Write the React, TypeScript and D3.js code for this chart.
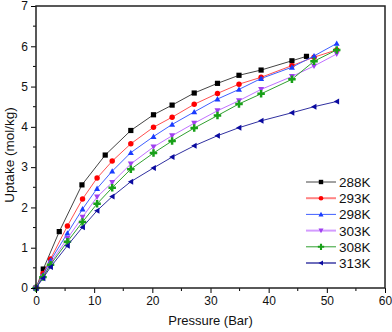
import React, { useEffect, useRef } from "react";
import * as d3 from "d3";

// pressure points (Bar)
const p288 = [0, 1.25, 4.0, 7.9, 11.9, 16.3, 20.2, 23.4, 27.2, 31.2, 34.9, 38.7, 44.0, 46.5];
const p2xx = [0, 1.2, 2.5, 5.4, 8.0, 10.5, 13.1, 16.3, 20.2, 23.4, 27.2, 31.2, 34.9, 38.7, 44.0, 47.8, 51.7];

const u288 = [0, 0.47, 1.4, 2.56, 3.3, 3.91, 4.3, 4.54, 4.84, 5.08, 5.28, 5.41, 5.64, 5.75];
const u293 = [0, 0.36, 0.72, 1.54, 2.21, 2.73, 3.15, 3.58, 3.99, 4.24, 4.56, 4.83, 5.06, 5.23, 5.52, 5.73, 5.91];
const u298 = [0, 0.32, 0.68, 1.36, 1.96, 2.47, 2.9, 3.36, 3.76, 4.06, 4.37, 4.69, 4.93, 5.2, 5.48, 5.76, 6.07];
const u303 = [0, 0.29, 0.62, 1.23, 1.76, 2.26, 2.62, 3.08, 3.5, 3.78, 4.09, 4.4, 4.65, 4.93, 5.25, 5.51, 5.81];
const u308 = [0, 0.27, 0.58, 1.15, 1.64, 2.09, 2.49, 2.95, 3.35, 3.65, 3.97, 4.28, 4.57, 4.82, 5.18, 5.63, 5.91];
const u313 = [0, 0.24, 0.52, 1.05, 1.51, 1.92, 2.27, 2.64, 2.98, 3.25, 3.53, 3.78, 3.98, 4.15, 4.35, 4.5, 4.63];

const labels = ["288K", "293K", "298K", "303K", "308K", "313K"];
const lineColors = ["#444444", "#ff5050", "#4060ff", "#c070ff", "#30a030", "#3030a0"];
const markColors = ["#000000", "#ff0000", "#1a3cff", "#a040f0", "#18a018", "#0a0aa0"];
const shapes = ["square", "circle", "up", "down", "diamond", "left"];
const xTicks = [0, 10, 20, 30, 40, 50, 60];
const yTicks = [0, 1, 2, 3, 4, 5, 6, 7];

function marker(shape: string, r: number) {
  if (shape === "square") return `M${-r},${-r}H${r}V${r}H${-r}Z`;
  if (shape === "circle") return d3.symbol(d3.symbolCircle, Math.PI * r * r * 1.1)()!;
  if (shape === "diamond") return d3.symbol(d3.symbolCross, r * r * 4.6)()!;
  const h = r * 1.15;
  if (shape === "up") return `M0,${-h}L${h},${h * 0.8}L${-h},${h * 0.8}Z`;
  if (shape === "down") return `M0,${h}L${h},${-h * 0.8}L${-h},${-h * 0.8}Z`;
  return `M${-h},0L${h * 0.8},${-h}L${h * 0.8},${h}Z`;
}

const App = () => {
  const ref = useRef<SVGSVGElement>(null);

  useEffect(() => {
    document.body.style.margin = "0";
    const svg = d3.select(ref.current);
    svg.selectAll("*").remove();
    const W = 392, H = 332;
    const left = 36, right = 385, top = 6, bottom = 288;
    const x = d3.scaleLinear().domain([0, 60]).range([left, right]);
    const y = d3.scaleLinear().domain([0, 7]).range([bottom, top]);
    const font = "Arial, 'Liberation Sans', sans-serif";

    svg.attr("width", W).attr("height", H).style("display", "block").style("font-family", font);
    svg.append("rect").attr("width", W).attr("height", H).attr("fill", "white");

    const series = [
      { px: p288, u: u288 },
      { px: p2xx, u: u293 },
      { px: p2xx, u: u298 },
      { px: p2xx, u: u303 },
      { px: p2xx, u: u308 },
      { px: p2xx, u: u313 },
    ];

    const line = d3.line<[number, number]>().x(d => x(d[0])).y(d => y(d[1]));
    series.forEach((s, i) => {
      const pts = s.px.map((p, k) => [p, s.u[k]] as [number, number]);
      svg.append("path").attr("d", line(pts)!).attr("fill", "none")
        .attr("stroke", lineColors[i]).attr("stroke-width", 1);
      svg.append("g").selectAll("path").data(pts).join("path")
        .attr("transform", d => `translate(${x(d[0])},${y(d[1])})`)
        .attr("d", marker(shapes[i], 2.6))
        .attr("fill", markColors[i]);
    });

    // axes
    const gx = svg.append("g").attr("transform", `translate(0,${bottom})`)
      .call(d3.axisBottom(x).tickValues(xTicks).tickSize(5).tickPadding(3).tickFormat(d3.format("d")));
    gx.append("g").selectAll("line").data(d3.range(5, 60, 10)).join("line")
      .attr("x1", d => x(d)).attr("x2", d => x(d)).attr("y2", 3).attr("stroke", "#000");
    const gy = svg.append("g").attr("transform", `translate(${left},0)`)
      .call(d3.axisLeft(y).tickValues(yTicks).tickSize(5).tickPadding(3).tickFormat(d3.format("d")));
    gy.append("g").selectAll("line").data(d3.range(0.5, 7, 1)).join("line")
      .attr("y1", d => y(d)).attr("y2", d => y(d)).attr("x2", -3).attr("stroke", "#000");
    [gx, gy].forEach(g => {
      g.select(".domain").remove();
      g.selectAll("text").attr("font-size", 12).attr("font-family", font).attr("fill", "#111");
      g.selectAll("line").attr("stroke-width", 1);
    });

    svg.append("rect").attr("x", left).attr("y", top).attr("width", right - left).attr("height", bottom - top)
      .attr("fill", "none").attr("stroke", "#222").attr("stroke-width", 1.5);

    svg.append("text").attr("x", (left + right) / 2).attr("y", 325).attr("text-anchor", "middle")
      .attr("font-size", 13).attr("fill", "#111").text("Pressure (Bar)");
    svg.append("text").attr("transform", `translate(13.5,155) rotate(-90)`)
      .attr("text-anchor", "middle").attr("font-size", 13.5).attr("fill", "#111").text("Uptake (mol/kg)");

    // legend
    const lg = svg.append("g");
    labels.forEach((lab, i) => {
      const ly = 182 + i * 16.2;
      lg.append("line").attr("x1", 306).attr("x2", 336).attr("y1", ly).attr("y2", ly)
        .attr("stroke", lineColors[i]).attr("stroke-width", i % 2 === 1 ? 2 : 1)
        .attr("stroke-opacity", i % 2 === 1 ? 0.7 : 1);
      lg.append("path").attr("transform", `translate(321,${ly})`).attr("d", marker(shapes[i], 2.2))
        .attr("fill", markColors[i]);
      lg.append("text").attr("x", 339).attr("y", ly + 5).attr("font-size", 13.5).attr("fill", "#111").text(lab);
    });
  }, []);

  return <svg ref={ref}></svg>;
};

export default App;
